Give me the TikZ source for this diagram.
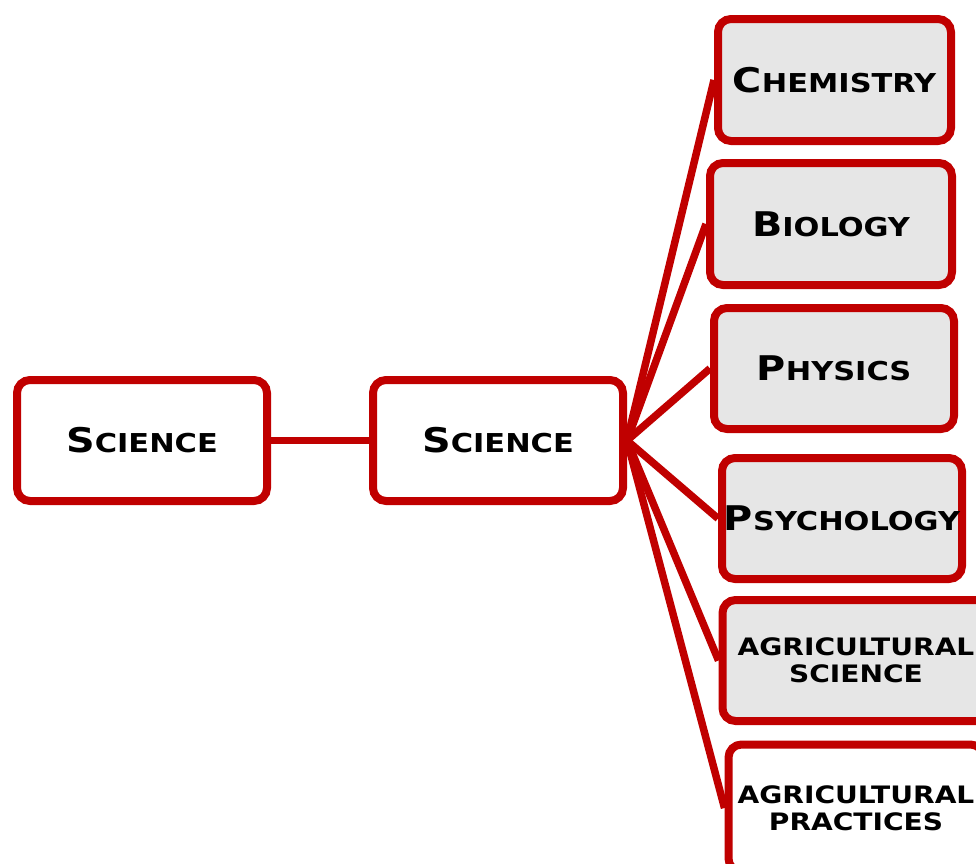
\documentclass[tikz,border=0pt]{standalone}
\usepackage{fontspec}
\usetikzlibrary{backgrounds}
\newfontfamily\capsfont{DejaVu Sans}[FakeStretch=1.17]
\definecolor{boxred}{HTML}{C00000}
\definecolor{boxgray}{HTML}{E6E6E6}
% fake small caps: large initial, smaller rest
\newcommand{\bigsmall}[2]{{\fontsize{34}{34}\selectfont #1}{\fontsize{26}{26}\selectfont #2}}
\begin{document}
\begin{tikzpicture}[x=1pt,y=-1pt,
  card/.style={draw=boxred, line width=8pt, rounded corners=13pt,
    inner sep=0pt, align=center, font=\capsfont\bfseries, text=black},
  whitecard/.style={card, fill=white},
  graycard/.style={card, fill=boxgray},
  smalltext/.style={font=\capsfont\bfseries\fontsize{24}{27}\selectfont},
  link/.style={draw=boxred, line width=7.5pt}]
\useasboundingbox (0,0) rectangle (976,863);
\clip (0,0) rectangle (976,863);
\node[whitecard, minimum width=250pt, minimum height=121pt] (root) at (142,440.5) {\bigsmall{S}{CIENCE}};
\node[whitecard, minimum width=250pt, minimum height=121pt] (sci) at (498,440.5) {\bigsmall{S}{CIENCE}};
\node[graycard, minimum width=233pt, minimum height=122pt] (chem) at (834.5,80) {\bigsmall{C}{HEMISTRY}};
\node[graycard, minimum width=242pt, minimum height=122pt] (bio) at (831,224) {\bigsmall{B}{IOLOGY}};
\node[graycard, minimum width=240pt, minimum height=121pt] (phys) at (834,368.5) {\bigsmall{P}{HYSICS}};
\node[graycard, minimum width=240pt, minimum height=121pt] (psy) at (842,518.5) {\bigsmall{P}{SYCHOLOGY}};
\node[graycard, smalltext, minimum width=267pt, minimum height=121pt] (agsci) at (856,660.5) {AGRICULTURAL\\SCIENCE};
\node[whitecard, smalltext, minimum width=255pt, minimum height=127pt] (agpra) at (856,808) {AGRICULTURAL\\PRACTICES};
\begin{scope}[on background layer]
\draw[link] (root.east) -- (sci.west);
\foreach \t in {chem,bio,phys,psy,agsci,agpra}
  \draw[link] (sci.east) -- (\t.west);
\end{scope}
\end{tikzpicture}
\end{document}
